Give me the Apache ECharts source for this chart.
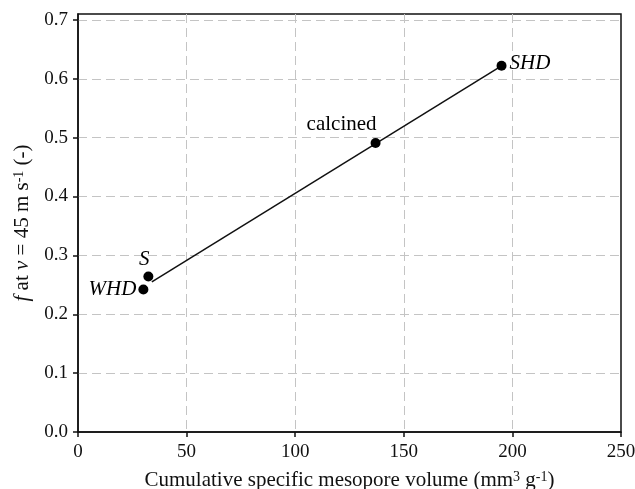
<!DOCTYPE html>
<html>
<head>
<meta charset="utf-8">
<script src="https://cdn.jsdelivr.net/npm/echarts@6/dist/echarts.min.js"></script>
<style>
  html, body { margin: 0; padding: 0; background: #fff; }
  #main { width: 635px; height: 489px; }
</style>
</head>
<body>
<div id="main"></div>
<script>
// samples
const sampleNames = ['S', 'WHD', 'calcined', 'SHD'];
const mesoVolume = [32.4, 30.1, 137.0, 195.0];
const fValue = [0.264, 0.242, 0.491, 0.622];
// fitted line end points
const fitX = [34, 195];
const fitY = [0.255, 0.622];
const yTicks = [0, 0.1, 0.2, 0.3, 0.4, 0.5, 0.6, 0.7];

const serif = '"Liberation Serif", "DejaVu Serif", serif';

// label placement per sample
const labelCfg = {
    S: { position: 'top', offset: [-4, 3], fontStyle: 'italic' },
    WHD: { position: 'left', offset: [3, 0], fontStyle: 'italic' },
    calcined: { position: 'top', offset: [-34, 2], fontStyle: 'normal' },
    SHD: { position: 'right', offset: [-2, -2], fontStyle: 'italic' }
};

const chart = echarts.init(document.getElementById('main'));

const pts = sampleNames.map(function (n, i) {
    const c = labelCfg[n];
    return {
        name: n,
        value: [mesoVolume[i], fValue[i]],
        label: {
            show: true,
            formatter: n,
            position: c.position,
            offset: c.offset,
            fontStyle: c.fontStyle,
            fontFamily: serif,
            fontSize: 21,
            color: '#000'
        }
    };
});

const option = {
    animation: false,
    backgroundColor: '#fff',
    grid: {
        left: 78, right: 14, top: 14, bottom: 57,
        outerBoundsMode: 'none',
        show: true, borderColor: '#111', borderWidth: 1.5
    },
    xAxis: {
        type: 'value',
        min: 0, max: 250, interval: 50,
        name: '{n|Cumulative specific mesopore volume (mm}{s|3}{n| g}{s|-1}{n|)}',
        nameLocation: 'middle',
        nameGap: 38,
        nameTextStyle: {
            rich: {
                n: { fontFamily: serif, fontSize: 21, color: '#111', lineHeight: 21 },
                s: { fontFamily: serif, fontSize: 14, color: '#111', verticalAlign: 'top', lineHeight: 14 }
            }
        },
        axisLine: { lineStyle: { color: '#111', width: 1.5 } },
        axisTick: { show: true, inside: false, length: 5, lineStyle: { color: '#111', width: 1.5 } },
        axisLabel: { fontFamily: serif, fontSize: 19, color: '#111', margin: 11 },
        splitLine: { show: true, showMinLine: false, showMaxLine: false, lineStyle: { color: '#c4c4c4', type: [9, 5], width: 1 } }
    },
    yAxis: {
        type: 'value',
        min: 0, max: 0.71, interval: 0.1,
        name: '{i|f}{n| at }{i|v}{n| = 45 m s}{s|-1}{n| (-)}',
        nameLocation: 'middle',
        nameGap: 43,
        nameTextStyle: {
            rich: {
                n: { fontFamily: serif, fontSize: 21, color: '#111', lineHeight: 21 },
                i: { fontFamily: serif, fontSize: 21, color: '#111', fontStyle: 'italic', lineHeight: 21 },
                s: { fontFamily: serif, fontSize: 14, color: '#111', verticalAlign: 'top', lineHeight: 14 }
            }
        },
        axisLine: { lineStyle: { color: '#111', width: 1.5 } },
        axisTick: { show: true, inside: false, length: 5, customValues: yTicks, lineStyle: { color: '#111', width: 1.5 } },
        axisLabel: {
            fontFamily: serif, fontSize: 19, color: '#111', margin: 10,
            customValues: yTicks,
            formatter: function (v) { return v.toFixed(1); }
        },
        splitLine: { show: true, showMinLine: false, lineStyle: { color: '#c4c4c4', type: [9, 5], width: 1 } }
    },
    series: [
        {
            type: 'line',
            data: fitX.map(function (x, i) { return [x, fitY[i]]; }),
            showSymbol: false,
            symbol: 'none',
            lineStyle: { color: '#111', width: 1.5 },
            z: 2
        },
        {
            type: 'scatter',
            data: pts,
            symbol: 'circle',
            symbolSize: 10,
            itemStyle: { color: '#000', opacity: 1 },
            z: 3
        }
    ]
};

chart.setOption(option);
</script>
</body>
</html>
